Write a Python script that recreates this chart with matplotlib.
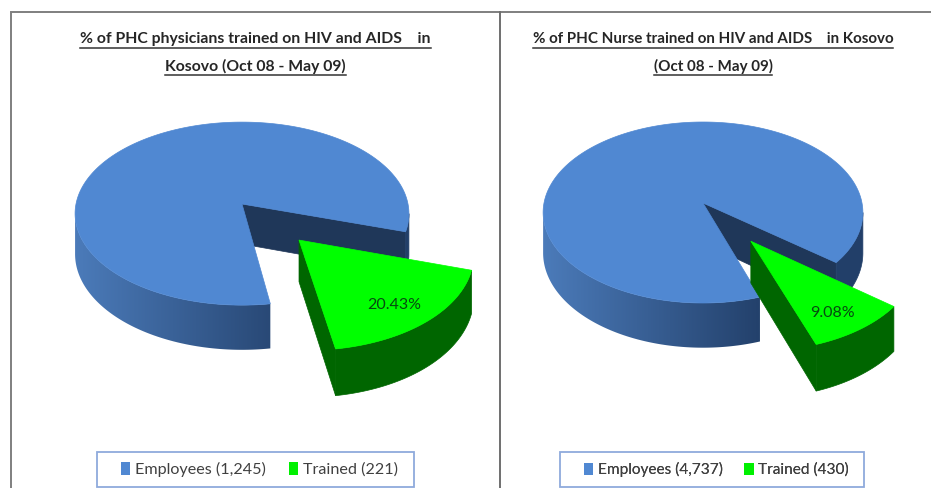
import numpy as np
import matplotlib
matplotlib.use("Agg")
import matplotlib.pyplot as plt
from matplotlib.patches import Polygon, Patch, Rectangle
from matplotlib.colors import to_rgb

# Data
titles = [
    "% of PHC physicians trained on HIV and AIDS    in\nKosovo (Oct 08 - May 09)",
    "% of PHC Nurse trained on HIV and AIDS    in Kosovo\n(Oct 08 - May 09)",
]
employees = [1245, 4737]
trained = [221, 430]
pct_labels = ["20.43%", "9.08%"]
legend_names = ["Employees", "Trained"]

plt.rcParams["font.family"] = ["Lato", "DejaVu Sans"]

BLUE_TOP = "#5088d2"
BLUE_LIGHT = "#4c7cbb"
BLUE_DARK = "#223f69"
BLUE_WALL = "#1f3759"
GREEN_TOP = "#00ff00"
GREEN_SIDE = "#006600"
K = 0.105  # perspective


def project(u, v, cx, cy, a, b):
    w = 1 - K * v
    return cx + a * u / w, cy + b * v / w, 1 / w


def top_points(th, off, geo):
    x, y, _ = project(np.cos(th) + off[0], np.sin(th) + off[1], *geo)
    return np.column_stack([x, y])


def depth_points(th, off, geo, depth):
    x, y, s = project(np.cos(th) + off[0], np.sin(th) + off[1], *geo)
    return np.column_stack([x, y + depth * s])


def centre(off, geo, depth=0):
    x, y, s = project(off[0], off[1], *geo)
    return [x, y + depth * s]


def rim_polygon(t0, t1, off, geo, depth):
    th = np.linspace(t0, t1, 200)
    return np.vstack([top_points(th, off, geo), depth_points(th, off, geo, depth)[::-1]])


def draw_shaded_rim(ax, t0, t1, geo, depth, c0, c1, xr):
    # outer side of the big slice, gradient goes left to right
    pts = rim_polygon(t0, t1, (0, 0), geo, depth)
    f = np.clip((np.arange(int(xr[0]), int(xr[1]) + 1) - xr[0]) / (xr[1] - xr[0]), 0, 1)
    grad = np.outer(1 - f, to_rgb(c0)) + np.outer(f, to_rgb(c1))
    y0, y1 = pts[:, 1].min(), pts[:, 1].max()
    im = ax.imshow(grad[np.newaxis, :, :], extent=(xr[0] - 5, xr[1], y1 + 1, y0 - 1), aspect="auto",
                   zorder=1, interpolation="bilinear")
    clip = Polygon(pts, closed=True, transform=ax.transData, fc="none", ec="none")
    ax.add_patch(clip)
    im.set_clip_path(clip)


def draw_pie(ax, emp, tr, label, geo, start_deg, explode, depth, label_xy):
    sweep = 2 * np.pi * tr / emp
    t0 = np.radians(start_deg)
    t1 = t0 + sweep
    mid = (t0 + t1) / 2
    none = (0, 0)
    xr = (geo[0] - geo[2], geo[0] + geo[2] * 0.4)
    # widest points of the projected circle, the rim stops there
    side = np.arcsin(K)

    # wall of the cut behind the green slice
    c_top = centre(none, geo)
    c_low = centre(none, geo, depth)
    rim_top = top_points(np.array([t0]), none, geo)[0]
    rim_low = depth_points(np.array([t0]), none, geo, depth)[0]
    ax.add_patch(Polygon([c_top, rim_top, rim_low, c_low], closed=True, fc=BLUE_WALL, ec=BLUE_WALL, lw=0.5))

    ax.add_patch(Polygon(rim_polygon(side, t0, none, geo, depth), closed=True, fc=BLUE_DARK, ec=BLUE_DARK, lw=0.5))
    draw_shaded_rim(ax, t1, np.pi - side, geo, depth, BLUE_LIGHT, BLUE_DARK, xr)

    th = np.linspace(t1, t0 + 2 * np.pi, 300)
    ax.add_patch(Polygon(np.vstack([c_top, top_points(th, none, geo)]), closed=True,
                         fc=BLUE_TOP, ec=BLUE_TOP, lw=0.5))

    # exploded slice
    off = (explode * np.cos(mid), explode * np.sin(mid))
    g_top = centre(off, geo)
    g_low = centre(off, geo, depth)
    end_top = top_points(np.array([t1]), off, geo)[0]
    end_low = depth_points(np.array([t1]), off, geo, depth)[0]
    ax.add_patch(Polygon([g_top, end_top, end_low, g_low], closed=True, fc=GREEN_SIDE, ec=GREEN_SIDE, lw=0.5))
    ax.add_patch(Polygon(rim_polygon(t0, t1, off, geo, depth), closed=True, fc=GREEN_SIDE, ec=GREEN_SIDE, lw=0.5))
    th = np.linspace(t0, t1, 80)
    ax.add_patch(Polygon(np.vstack([g_top, top_points(th, off, geo)]), closed=True,
                         fc=GREEN_TOP, ec=GREEN_TOP, lw=0.5))
    ax.text(label_xy[0], label_xy[1], label, ha="center", va="center", fontsize=11.5, color="#064a10", zorder=3)


fig = plt.figure(figsize=(9.31, 4.88), dpi=100)
ax = fig.add_axes([0, 0, 1, 1])

geos = [(242, 204, 166, 90.5), (703, 203, 159, 89.5)]
starts = [17.3, 38.5]
explodes = [0.505, 0.5]
title_x = [255.5, 713]
title_size = [11.3, 10.9]
label_pos = [(394, 305), (832, 313)]
legend_x = [259.5, 716.5]
legend_size = [11.6, 11.1]
box_x = [(97, 414), (560, 864)]

for i in range(2):
    draw_pie(ax, employees[i], trained[i], pct_labels[i], geos[i], starts[i], explodes[i], 40, label_pos[i])

ax.set_xlim(0, 931)
ax.set_ylim(488, 0)
ax.axis("off")

# frame of the two panels
ax.plot([931, 11, 11], [12, 12, 488], color="#7f7f7f", lw=1.4, solid_joinstyle="miter")
ax.plot([500, 500], [12, 488], color="#6f6f6f", lw=1.4)

for i in range(2):
    lines = titles[i].split("\n")
    for line, y in zip(lines, [39, 66]):
        t = ax.text(title_x[i], y, line, ha="center", va="center", fontsize=title_size[i],
                    fontweight="bold", color="#262626")
        bb = t.get_window_extent(fig.canvas.get_renderer())
        ax.plot([bb.x0, bb.x1], [y + 9, y + 9], color="#333333", lw=1.1)

    ax.add_patch(Rectangle((box_x[i][0], 452), box_x[i][1] - box_x[i][0], 35, fc="white", ec="#8faadc", lw=1.3))
    handles = [Patch(fc=BLUE_TOP, ec="none", label=f"{legend_names[0]} ({employees[i]:,})"),
               Patch(fc="#00f000", ec="none", label=f"{legend_names[1]} ({trained[i]:,})")]
    leg = ax.legend(handles=handles, ncol=2, loc="center", bbox_to_anchor=(legend_x[i], 469.5),
                    bbox_transform=ax.transData, fontsize=legend_size[i], frameon=False,
                    handlelength=0.6, handleheight=0.85, handletextpad=0.3, columnspacing=1.4,
                    labelcolor="#404040")
    ax.add_artist(leg)

fig.savefig("out.png", dpi=100)
